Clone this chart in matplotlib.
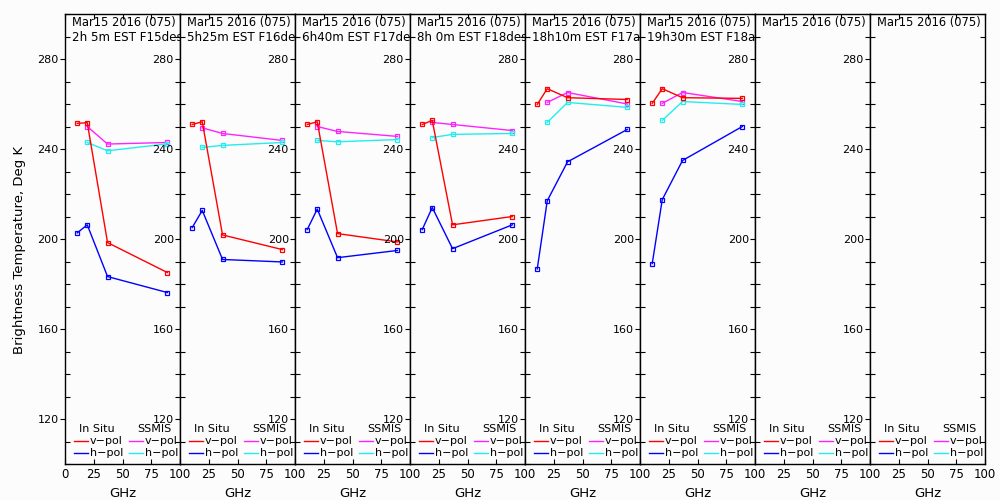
import numpy as np
import matplotlib
matplotlib.use("Agg")
import matplotlib.pyplot as plt
from matplotlib.ticker import MultipleLocator, FixedLocator
from matplotlib.lines import Line2D

# 频率（GHz）
freq_insitu = [10.65, 19.35, 37.0, 89.0]
freq_ssmis = [19.35, 37.0, 89.0]

# 每个子图的标题
title_line1 = ["Mar15 2016 (075)"] * 8
title_line2 = [
    "2h 5m EST F15desc",
    "5h25m EST F16desc",
    "6h40m EST F17desc",
    "8h 0m EST F18desc",
    "18h10m EST F17asc",
    "19h30m EST F18asc",
    "",
    "",
]

# 实测 v-pol / h-pol
insitu_v = [
    [251.4, 251.7, 198.4, 185.1],
    [250.9, 252.1, 201.8, 195.3],
    [250.9, 252.1, 202.4, 198.7],
    [250.9, 252.7, 206.3, 210.0],
    [259.8, 266.8, 262.8, 262.0],
    [260.3, 266.8, 262.8, 262.5],
    None,
    None,
]
insitu_h = [
    [202.7, 206.3, 183.3, 176.2],
    [205.1, 212.7, 190.9, 189.8],
    [204.2, 213.3, 191.7, 194.9],
    [204.2, 214.0, 195.7, 206.3],
    [186.7, 217.0, 234.3, 248.7],
    [189.1, 217.5, 234.9, 250.0],
    None,
    None,
]
# SSMIS v-pol / h-pol
ssmis_v = [
    [250.0, 242.2, 242.9],
    [249.4, 246.9, 243.8],
    [250.0, 247.8, 245.6],
    [251.8, 250.9, 248.2],
    [260.7, 265.1, 260.0],
    [260.3, 265.1, 261.1],
    None,
    None,
]
ssmis_h = [
    [242.9, 239.2, 242.3],
    [240.7, 241.6, 242.9],
    [243.8, 243.2, 244.2],
    [245.1, 246.5, 246.9],
    [251.8, 260.7, 258.5],
    [252.7, 261.1, 259.8],
    None,
    None,
]

# 颜色
c_iv = "#ff0000"
c_ih = "#0000ff"
c_sv = "#ff22ff"
c_sh = "#22eeee"
bg = "#fcfcfc"

plt.rcParams["font.family"] = ["DejaVu Sans"]

fig = plt.figure(figsize=(10, 5), dpi=100, facecolor=bg)

n_panels = 8
left0 = 0.065
width = 0.115
bottom = 0.072
height = 0.9

mk = dict(marker="s", markersize=3.2, markerfacecolor="none", markeredgewidth=0.9, linewidth=1.0)

for i in range(n_panels):
    ax = fig.add_axes([left0 + i * width, bottom, width, height], facecolor=bg)
    ax.set_xlim(0, 100)
    ax.set_ylim(100, 300)

    # 画数据
    if insitu_v[i] is not None:
        ax.plot(freq_insitu, insitu_v[i], color=c_iv, **mk, zorder=4)
        ax.plot(freq_insitu, insitu_h[i], color=c_ih, **mk, zorder=4)
        ax.plot(freq_ssmis, ssmis_v[i], color=c_sv, **mk, zorder=3)
        ax.plot(freq_ssmis, ssmis_h[i], color=c_sh, **mk, zorder=3)

    # 坐标轴刻度
    ax.yaxis.set_major_locator(FixedLocator([120, 160, 200, 240, 280]))
    ax.yaxis.set_minor_locator(MultipleLocator(10))
    ax.tick_params(axis="y", which="major", direction="out", length=3.5, width=0.8,
                   labelsize=8, pad=1, left=True, right=False)
    ax.tick_params(axis="y", which="minor", direction="in", length=3.5, width=0.8,
                   left=True, right=True)
    ax.set_xticks([0, 25, 50, 75, 100])
    if i == 0:
        ax.set_xticklabels(["0", "25", "50", "75", "100"])
    else:
        ax.set_xticklabels(["", "25", "50", "75", "100"])
    ax.tick_params(axis="x", which="major", direction="in", length=3.5, width=0.8,
                   labelsize=8.5, pad=3, top=True, bottom=True)
    for sp in ax.spines.values():
        sp.set_linewidth(1.0)

    ax.set_xlabel("GHz", fontsize=9.5, labelpad=4)

    # 标题（在框内，超出部分裁掉）
    ax.text(0.06, 0.982, title_line1[i], transform=ax.transAxes, fontsize=8.3,
            ha="left", va="center", clip_on=True)
    if title_line2[i]:
        ax.text(0.065, 0.947, title_line2[i], transform=ax.transAxes, fontsize=8.6,
                ha="left", va="center", clip_on=True)

    # 图例（手工绘制）
    ax.text(0.274, 0.077, "In Situ", transform=ax.transAxes, fontsize=8, ha="center", va="center")
    ax.text(0.774, 0.077, "SSMIS", transform=ax.transAxes, fontsize=8, ha="center", va="center")
    rows = [(0.0505, c_iv, c_sv, "v\u2212pol"), (0.0245, c_ih, c_sh, "h\u2212pol")]
    for yy, ca, cb, lab in rows:
        ax.add_line(Line2D([0.078, 0.2], [yy, yy], transform=ax.transAxes, color=ca, linewidth=1.0))
        ax.text(0.215, yy, lab, transform=ax.transAxes, fontsize=8, ha="left", va="center")
        ax.add_line(Line2D([0.557, 0.678], [yy, yy], transform=ax.transAxes, color=cb, linewidth=1.0))
        ax.text(0.693, yy, lab, transform=ax.transAxes, fontsize=8, ha="left", va="center")

fig.text(0.02, 0.5, "Brightness Temperature, Deg K", rotation=90, fontsize=9.5,
         ha="center", va="center")

fig.savefig("out.png", dpi=100, facecolor=bg)
